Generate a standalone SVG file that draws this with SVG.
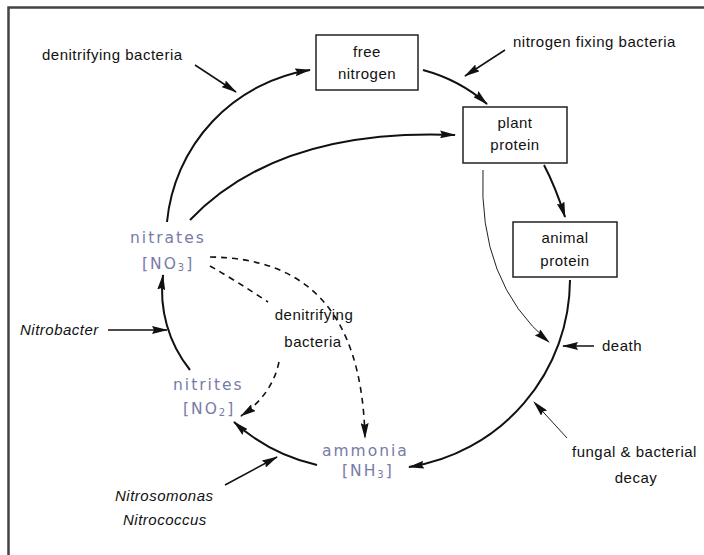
<svg xmlns="http://www.w3.org/2000/svg" width="704" height="555" viewBox="0 0 704 555">
<style>
.lbl{font-family:"Liberation Sans",Arial,sans-serif;font-size:15px;letter-spacing:0.5px;fill:#111}
.it{font-style:italic}
.chem{font-family:"DejaVu Sans",Verdana,sans-serif;font-size:15.5px;letter-spacing:2px;fill:#777ba6}
.box{fill:#fff;stroke:#222;stroke-width:1.5}
.main{fill:none;stroke:#111;stroke-width:2}
.ptr{fill:none;stroke:#111;stroke-width:1.5}
.thin{fill:none;stroke:#222;stroke-width:1}
.dash{fill:none;stroke:#111;stroke-width:1.6;stroke-dasharray:6 5}
</style>
<defs>
<marker id="ah" markerUnits="userSpaceOnUse" markerWidth="16" markerHeight="8" viewBox="0 0 16 8" refX="15" refY="4" orient="auto">
<path d="M0,0 L16,4 L0,8 L2,4 z" fill="#111"/>
</marker>
</defs>
<rect width="704" height="555" fill="#fff"/>
<path d="M8.5,555 V7.5 H704" fill="none" stroke="#444" stroke-width="2.5"/>

<g id="connectors">
<path class="main" d="M167,222 A170,170 0 0 1 310,70" marker-end="url(#ah)"/>
<path class="main" d="M423,70 Q460,80 487,104" marker-end="url(#ah)"/>
<path class="main" d="M190,220 Q278,128 455,135" marker-end="url(#ah)"/>
<path class="main" d="M544,165 Q556,188 565,217" marker-end="url(#ah)"/>
<path class="thin" d="M483,170 Q478,282 549,342" marker-end="url(#ah)"/>
<path class="main" d="M570,280 A190,190 0 0 1 409,467" marker-end="url(#ah)"/>
<path class="main" d="M317,465 A185,185 0 0 1 234,422" marker-end="url(#ah)"/>
<path class="main" d="M190,370 A127,127 0 0 1 163,275" marker-end="url(#ah)"/>
<path class="dash" d="M210,257 C305,258 362,310 365,438" marker-end="url(#ah)"/>
<path class="dash" d="M210,266 Q238,282 268,302"/>
<path class="dash" d="M279,362 Q272,395 241,416" marker-end="url(#ah)"/>
<path class="ptr" d="M195,65 L236,92" marker-end="url(#ah)"/>
<path class="ptr" d="M505,50 L465,76" marker-end="url(#ah)"/>
<path class="ptr" d="M594,346 L563,346" marker-end="url(#ah)"/>
<path class="thin" d="M567,438 L534,402" marker-end="url(#ah)"/>
<path class="ptr" d="M108,330 L167,330" marker-end="url(#ah)"/>
<path class="ptr" d="M225,485 L277,457" marker-end="url(#ah)"/>
</g>

<g id="free-nitrogen">
<rect class="box" x="316" y="35" width="102" height="55"/>
<text class="lbl" x="367" y="57" text-anchor="middle">free</text>
<text class="lbl" x="367" y="79" text-anchor="middle">nitrogen</text>
</g>
<g id="plant-protein">
<rect class="box" x="463" y="107" width="104" height="56"/>
<text class="lbl" x="515" y="128" text-anchor="middle">plant</text>
<text class="lbl" x="515" y="150" text-anchor="middle">protein</text>
</g>
<g id="animal-protein">
<rect class="box" x="513" y="222" width="104" height="55"/>
<text class="lbl" x="565" y="243" text-anchor="middle">animal</text>
<text class="lbl" x="565" y="266" text-anchor="middle">protein</text>
</g>

<g id="nitrates">
<text class="chem" x="130" y="243">nitrates</text>
<text class="chem" x="142" y="269">[NO<tspan font-size="10" dy="2">3</tspan><tspan dy="-2">]</tspan></text>
</g>
<g id="nitrites">
<text class="chem" x="173" y="390">nitrites</text>
<text class="chem" x="183" y="414">[NO<tspan font-size="10" dy="2">2</tspan><tspan dy="-2">]</tspan></text>
</g>
<g id="ammonia">
<text class="chem" x="322" y="456">ammonia</text>
<text class="chem" x="342" y="476">[NH<tspan font-size="10" dy="2">3</tspan><tspan dy="-2">]</tspan></text>
</g>

<g id="labels">
<text class="lbl" x="42" y="60">denitrifying bacteria</text>
<text class="lbl" x="513" y="47">nitrogen fixing bacteria</text>
<text class="lbl" x="602" y="351">death</text>
<text class="lbl" x="572" y="457">fungal &amp; bacterial</text>
<text class="lbl" x="636" y="483" text-anchor="middle">decay</text>
<text class="lbl it" x="20" y="335">Nitrobacter</text>
<text class="lbl it" x="115" y="501">Nitrosomonas</text>
<text class="lbl it" x="123" y="525">Nitrococcus</text>
<text class="lbl" x="314" y="320" text-anchor="middle">denitrifying</text>
<text class="lbl" x="313" y="347" text-anchor="middle">bacteria</text>
</g>
</svg>
